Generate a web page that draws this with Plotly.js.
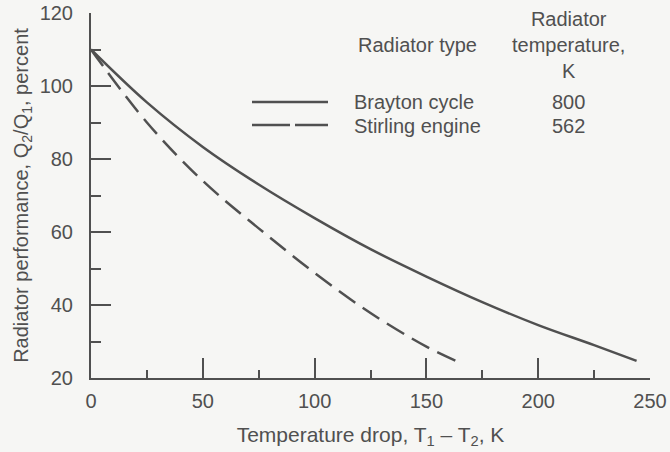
<!DOCTYPE html>
<html>
<head>
<meta charset="utf-8">
<script src="https://cdn.plot.ly/plotly-3.0.1.min.js"></script>
<style>html,body{margin:0;padding:0;background:#f6f6f4;}#chart{width:670px;height:452px;}</style>
</head>
<body>
<div id="chart"></div>
<script>
// Brayton cycle (radiator temperature 800 K)
const braytonDrop = [0, 25, 50, 75, 100, 125, 150, 175, 200, 225, 244];
const braytonPerf = [110, 95.5, 83.3, 73, 63.8, 55.3, 47.8, 40.8, 34.5, 29.0, 24.7];
// Stirling engine (radiator temperature 562 K)
const stirlingDrop = [0, 25, 50, 75, 100, 125, 150, 165];
const stirlingPerf = [110, 90, 74, 61, 48.8, 37.8, 28.6, 24.2];

const seriesNames = ["Brayton cycle", "Stirling engine"];
const radiatorTemps = ["800", "562"];

const ink = "#505050";
const font = {family: "Liberation Sans, Arial, sans-serif", size: 20, color: ink};

const traces = [
  {x: braytonDrop, y: braytonPerf, mode: "lines", name: seriesNames[0],
   line: {color: ink, width: 2.5, shape: "spline", smoothing: 1}},
  {x: stirlingDrop, y: stirlingPerf, mode: "lines", name: seriesNames[1],
   line: {color: ink, width: 2.5, dash: "20px,9px", shape: "spline", smoothing: 1}}
];

function px2x(p){ return (p - 91) / 559; }
function py2y(p){ return (378 - p) / 365; }

const layout = {
  width: 670, height: 452,
  margin: {l: 91, r: 20, t: 13, b: 74},
  paper_bgcolor: "#f6f6f4", plot_bgcolor: "#f6f6f4",
  font: font,
  showlegend: false,
  xaxis: {
    range: [0, 250], dtick: 50, tick0: 0,
    showgrid: false, zeroline: false,
    showline: true, linecolor: ink, linewidth: 2,
    ticks: "inside", ticklen: 20, tickwidth: 2, tickcolor: ink,
    minor: {dtick: 25, ticks: "inside", ticklen: 8, tickwidth: 2, tickcolor: ink, showgrid: false},
    ticklabelstandoff: 4,
    title: {text: "Temperature drop, T<sub>1</sub> \u2013 T<sub>2</sub>, K", font: {family: font.family, size: 21, color: ink}, standoff: 16}
  },
  yaxis: {
    range: [20, 120], dtick: 20, tick0: 20,
    showgrid: false, zeroline: false,
    showline: true, linecolor: ink, linewidth: 2,
    ticks: "inside", ticklen: 20, tickwidth: 2, tickcolor: ink,
    minor: {dtick: 10, ticks: "inside", ticklen: 10, tickwidth: 2, tickcolor: ink, showgrid: false},
    ticklabelstandoff: 12,
    title: {text: "Radiator performance, Q<sub>2</sub>/Q<sub>1</sub>, percent", font: font, standoff: 6}
  },
  shapes: [
    {type: "line", xref: "paper", yref: "paper", x0: px2x(252), x1: px2x(328), y0: py2y(102), y1: py2y(102),
     line: {color: ink, width: 2.5}},
    {type: "line", xref: "paper", yref: "paper", x0: px2x(252), x1: px2x(328), y0: py2y(125), y1: py2y(125),
     line: {color: ink, width: 2.5, dash: "38px,5px"}}
  ],
  annotations: [
    {xref: "paper", yref: "paper", x: px2x(356), y: py2y(45), xanchor: "left", yanchor: "middle",
     text: "Radiator type", showarrow: false, font: font},
    {xref: "paper", yref: "paper", x: px2x(568), y: py2y(45), xanchor: "center", yanchor: "middle",
     text: "Radiator<br>temperature,<br>K", showarrow: false, font: font, align: "center"},
    {xref: "paper", yref: "paper", x: px2x(352), y: py2y(102), xanchor: "left", yanchor: "middle",
     text: seriesNames[0], showarrow: false, font: font},
    {xref: "paper", yref: "paper", x: px2x(352), y: py2y(126), xanchor: "left", yanchor: "middle",
     text: seriesNames[1], showarrow: false, font: font},
    {xref: "paper", yref: "paper", x: px2x(568), y: py2y(102), xanchor: "center", yanchor: "middle",
     text: radiatorTemps[0], showarrow: false, font: font},
    {xref: "paper", yref: "paper", x: px2x(568), y: py2y(126), xanchor: "center", yanchor: "middle",
     text: radiatorTemps[1], showarrow: false, font: font}
  ]
};

Plotly.newPlot("chart", traces, layout, {displayModeBar: false, staticPlot: true});
</script>
</body>
</html>
